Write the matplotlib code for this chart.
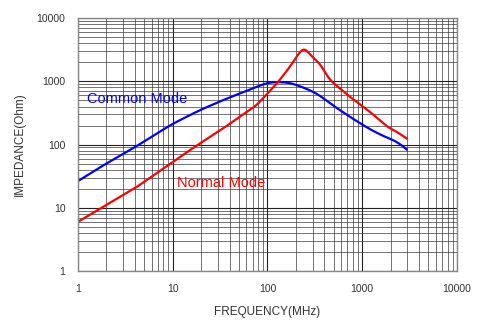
import numpy as np
import matplotlib
matplotlib.use("Agg")
from matplotlib import pyplot as plt
from matplotlib.ticker import LogLocator, FixedLocator, NullFormatter

# values (MHz, Ohm)
common_f = [1, 1.85, 4.2, 9.4, 15.2, 19.4, 34, 77, 106, 173, 281, 358, 456, 742, 1207, 1884, 2310, 2950]
common_z = [26.5, 47, 95, 203, 293, 351, 505, 820, 984, 962, 727, 606, 448, 275, 174, 125, 115, 84]

normal_f = [1, 4.2, 15.2, 34, 77, 127, 173, 215, 245, 281, 358, 456, 742, 1207, 1884, 2310, 2950]
normal_z = [6.0, 21.5, 82, 180, 421, 940, 1700, 2800, 3450, 2650, 1900, 1047, 570, 330, 187, 160, 125]

x_ticks = [1, 10, 100, 1000, 10000]
y_ticks = [1, 10, 100, 1000, 10000]

plt.rcParams["font.family"] = ["Liberation Sans", "DejaVu Sans"]

fig = plt.figure(figsize=(4.84, 3.29), dpi=100)
ax = fig.add_axes([0.161, 0.176, 0.783, 0.769])

ax.set_xscale("log")
ax.set_yscale("log")
ax.set_xlim(1, 10000)
ax.set_ylim(1, 10000)


# interpolate the traced points in log space and soften the corners
def smooth(fs, zs, width=7):
    lf = np.log10(fs)
    lz = np.log10(zs)
    t = np.linspace(lf[0], lf[-1], 400)
    y = np.interp(t, lf, lz)
    k = np.exp(-0.5 * (np.arange(-3 * width, 3 * width + 1) / width) ** 2)
    k /= k.sum()
    pad = 3 * width
    yp = np.concatenate([2 * y[0] - y[pad:0:-1], y, 2 * y[-1] - y[-2:-pad - 2:-1]])
    ys = np.convolve(yp, k, mode="valid")
    return 10 ** t, 10 ** ys


cf, cz = smooth(common_f, common_z)
nf, nz = smooth(normal_f, normal_z, width=3)
ax.plot(cf, cz, color="#0000ff", lw=1.6)
ax.plot(nf, nz, color="#ff0000", lw=1.6)

ax.xaxis.set_major_locator(FixedLocator(x_ticks))
ax.yaxis.set_major_locator(FixedLocator(y_ticks))
ax.set_xticklabels([str(v) for v in x_ticks])
ax.set_yticklabels([str(v) for v in y_ticks])
ax.xaxis.set_minor_locator(LogLocator(base=10, subs=np.arange(2, 10)))
ax.yaxis.set_minor_locator(LogLocator(base=10, subs=np.arange(2, 10)))
ax.xaxis.set_minor_formatter(NullFormatter())
ax.yaxis.set_minor_formatter(NullFormatter())
ax.tick_params(which="both", length=0, labelsize=7.5, colors="#333333")
ax.tick_params(axis="x", pad=9)
ax.tick_params(axis="y", pad=9)

ax.grid(True, which="major", color="#222222", lw=0.8)
ax.grid(True, which="minor", color="#333333", lw=0.6, alpha=0.8)
for s in ax.spines.values():
    s.set_color("#888888")
    s.set_linewidth(1.0)

ax.text(1.24, 525, "Common Mode", color="#0000ff", fontsize=10.5, va="center", ha="left")
ax.text(11.1, 24.6, "Normal Mode", color="#ff0000", fontsize=10.5, va="center", ha="left")

ax.set_xlabel("FREQUENCY(MHz)", fontsize=8.5, color="#333333", labelpad=9)
ax.set_ylabel("IMPEDANCE(Ohm)", fontsize=8.5, color="#333333", labelpad=8)

fig.savefig("out.png", dpi=100)
